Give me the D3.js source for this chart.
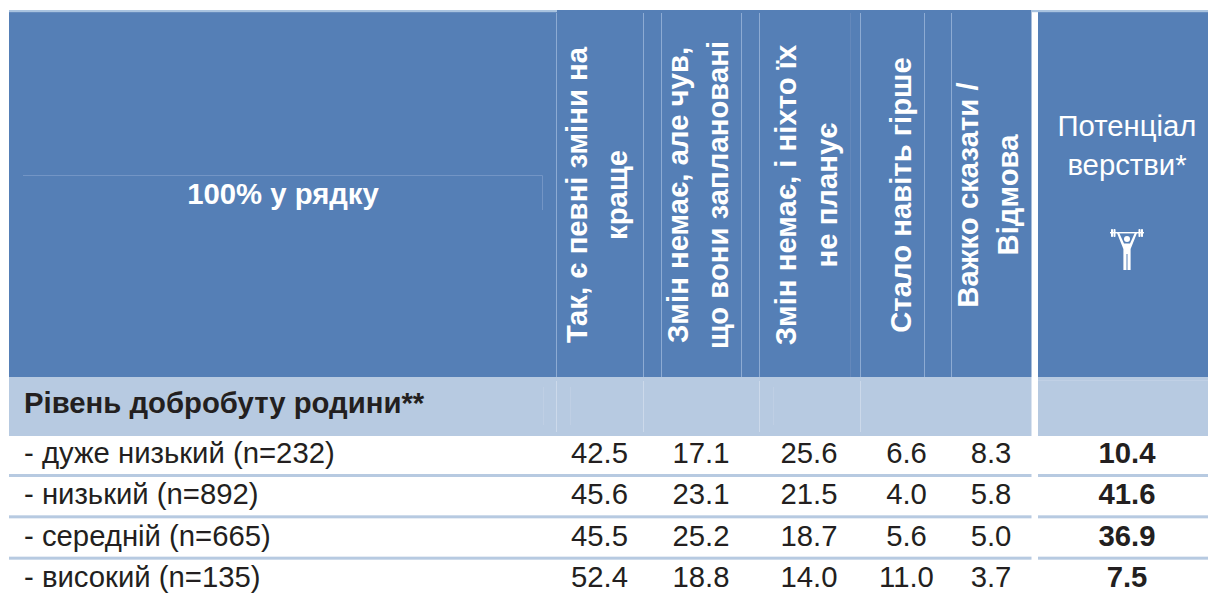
<!DOCTYPE html>
<html>
<head>
<meta charset="utf-8">
<script src="https://cdn.jsdelivr.net/npm/d3@7"></script>
<style>
  html, body { margin: 0; padding: 0; background: #fff; overflow: hidden; }
  text { font-family: "Liberation Sans", Arial, sans-serif; }
</style>
</head>
<body>
<div id="chart-container"></div>
<script>
// Table data
const rowLabels = ["- дуже низький (n=232)", "- низький (n=892)", "- середній (n=665)", "- високий (n=135)"];
const columns = ["better", "heard", "none", "worse", "dk", "potential"];
const better = ["42.5", "45.6", "45.5", "52.4"];
const heard = ["17.1", "23.1", "25.2", "18.8"];
const none = ["25.6", "21.5", "18.7", "14.0"];
const worse = ["6.6", "4.0", "5.6", "11.0"];
const dk = ["8.3", "5.8", "5.0", "3.7"];
const potential = ["10.4", "41.6", "36.9", "7.5"];
const seriesValues = [better, heard, none, worse, dk, potential];
const headerLines = [
  ["Так, є певні зміни на", "краще"],
  ["Змін немає, але чув,", "що вони заплановані"],
  ["Змін немає, і ніхто їх", "не планує"],
  ["Стало навіть гірше"],
  ["Важко сказати /", "Відмова"]
];

const width = 1208;
const height = 593;
const fontSize = 29.3;
const blue = "#557fb6";
const light = "#b7cae1";
const ink = "#231f20";

const svg = d3.select("#chart-container")
  .append("svg")
  .attr("width", width)
  .attr("height", height);

// Scales
const xCol = d3.scaleOrdinal().domain(columns).range([599.5, 701, 809, 906.5, 991, 1127]);
const yRow = d3.scalePoint().domain(rowLabels).range([463, 587]);

// Two blocks, white gap between them
const blocks = [[9, 1031.5], [1038, 1208]];
blocks.forEach(([x0, x1]) => {
  svg.append("rect").attr("x", x0).attr("y", 10).attr("width", x1 - x0).attr("height", 367).attr("fill", blue);
  svg.append("rect").attr("x", x0).attr("y", 377).attr("width", x1 - x0).attr("height", 59).attr("fill", light);
});

// Light strip along the top
[[9, 557], [1032, 1208]].forEach(([x0, x1]) => {
  svg.append("rect").attr("x", x0).attr("y", 10).attr("width", x1 - x0).attr("height", 2.2).attr("fill", "#a9c3df");
});

// Rules under the rows
rowLabels.slice(0, -1).forEach(d => {
  blocks.forEach(([x0, x1]) => {
    svg.append("rect").attr("x", x0).attr("y", yRow(d) + 11).attr("width", x1 - x0).attr("height", 3).attr("fill", light);
  });
});

// Thin cell borders left over in the header
const headLines = [556.5, 643.5, 661.5, 741.5, 759.5, 860.5, 924.5, 951.5];
svg.selectAll(".head-line").data(headLines).enter().append("line")
  .attr("x1", d => d).attr("x2", d => d).attr("y1", 13).attr("y2", 377)
  .attr("stroke", "#8dabd3").attr("stroke-width", 1);
svg.append("line").attr("x1", 850.5).attr("x2", 850.5).attr("y1", 13).attr("y2", 377)
  .attr("stroke", "#6488bb").attr("stroke-width", 1);

const subLines = [556.5, 643.5, 759.5, 860.5];
svg.selectAll(".sub-line").data(subLines).enter().append("line")
  .attr("x1", d => d).attr("x2", d => d).attr("y1", 381).attr("y2", 432)
  .attr("stroke", "#ccd9ea").attr("stroke-width", 1);
[543.5, 570.5, 773.5].forEach(x => {
  svg.append("line").attr("x1", x).attr("x2", x).attr("y1", 387).attr("y2", 425)
    .attr("stroke", "#bfcfe4").attr("stroke-width", 1);
});
svg.append("line").attr("x1", 1038).attr("x2", 1208).attr("y1", 380.5).attr("y2", 380.5)
  .attr("stroke", "#c0d0e5").attr("stroke-width", 1);

// Frame of the "100%" cell
svg.append("path").attr("d", "M23,175.5H542.5V210").attr("fill", "none")
  .attr("stroke", "#7395c5").attr("stroke-width", 1);

svg.append("text").attr("x", 283).attr("y", 204).attr("text-anchor", "middle")
  .attr("font-size", fontSize).attr("font-weight", "bold").attr("fill", "#fff").text("100% у рядку");

// Rotated column heads
const headBase = [[587, 627], [688, 728], [796, 837], [911], [978, 1018]];
headerLines.forEach((lines, i) => {
  lines.forEach((line, j) => {
    svg.append("text")
      .attr("transform", `translate(${headBase[i][j]},195) rotate(-90)`)
      .attr("text-anchor", "middle")
      .attr("font-size", fontSize).attr("font-weight", "bold").attr("fill", "#fff")
      .text(line);
  });
});

// Last column head
svg.selectAll(".pot").data(["Потенціал", "верстви*"]).enter().append("text")
  .attr("x", xCol("potential")).attr("y", (d, i) => 136 + i * 39)
  .attr("text-anchor", "middle").attr("font-size", fontSize).attr("fill", "#fff")
  .text(d => d);

// Weightlifter icon
const icon = svg.append("g").attr("transform", `translate(${xCol("potential")},0)`).attr("fill", "#fff");
icon.append("circle").attr("cx", 0).attr("cy", 239).attr("r", 3);
icon.append("rect").attr("x", -17).attr("y", 232).attr("width", 34).attr("height", 1.4);
[-16, -13.5, 11.5, 14].forEach(x => {
  icon.append("rect").attr("x", x).attr("y", 229).attr("width", 2).attr("height", 8).attr("rx", 0.8);
});
icon.append("path").attr("d", "M-10,233 L-8,232.5 L-3,243.5 H3 L8,232.5 L10,233 L3.6,249 V270 H0.5 V254 H-0.5 V270 H-3.6 V249 Z");

// Section row
svg.append("text").attr("x", 24).attr("y", 413)
  .attr("font-size", fontSize).attr("font-weight", "bold").attr("fill", ink)
  .text("Рівень добробуту родини**");

// Row labels
svg.selectAll(".row-label").data(rowLabels).enter().append("text")
  .attr("x", 24).attr("y", d => yRow(d))
  .attr("font-size", fontSize).attr("fill", ink)
  .text(d => d);

// Values
columns.forEach((col, c) => {
  svg.selectAll(".v-" + col).data(seriesValues[c]).enter().append("text")
    .attr("x", xCol(col)).attr("y", (d, i) => yRow(rowLabels[i]))
    .attr("text-anchor", "middle").attr("font-size", fontSize)
    .attr("font-weight", col === "potential" ? "bold" : "normal")
    .attr("fill", ink)
    .text(d => d);
});
</script>
</body>
</html>
